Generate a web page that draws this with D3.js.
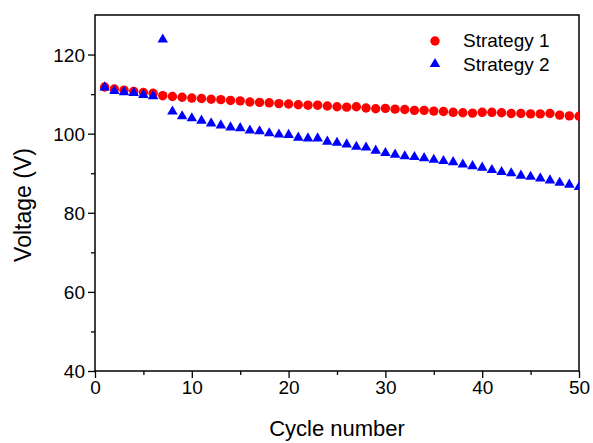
<!DOCTYPE html>
<html>
<head>
<meta charset="utf-8">
<script src="https://cdn.jsdelivr.net/npm/d3@7"></script>
<style>
	body { margin: 0; background: #fff; }
	text { font-family: Arial, "Liberation Sans", sans-serif; fill: #000; }
</style>
</head>
<body>
<div id="chart"></div>
<script>
var cycles = [1,2,3,4,5,6,7,8,9,10,11,12,13,14,15,16,17,18,19,20,21,22,23,24,25,
	26,27,28,29,30,31,32,33,34,35,36,37,38,39,40,41,42,43,44,45,46,47,48,49,50];

var strategy1 = [111.8,111.3,111.0,110.7,110.4,110.2,109.6,109.4,109.2,109.0,
	108.9,108.7,108.6,108.4,108.3,108.0,107.9,107.8,107.6,107.5,
	107.3,107.2,107.2,107.0,106.8,106.7,106.8,106.5,106.3,106.4,
	106.2,106.1,105.9,105.9,105.7,105.6,105.4,105.3,105.2,105.4,
	105.4,105.3,105.1,105.1,105.0,105.0,105.1,104.7,104.5,104.4];

var strategy2 = [111.9,111.0,110.7,110.5,110.0,109.7,124.0,105.8,104.6,104.1,
	103.5,102.8,102.3,101.8,101.6,101.0,100.8,100.3,100.0,99.9,
	99.2,99.0,99.0,98.2,97.9,97.5,96.9,96.7,95.9,95.3,
	94.9,94.5,94.3,94.0,93.6,93.3,93.0,92.4,92.0,91.6,
	91.0,90.5,90.2,89.6,89.3,88.9,88.4,87.8,87.3,86.7];

var xTicks = [0,10,20,30,40,50];
var yTicks = [40,60,80,100,120];
var seriesNames = ['Strategy 1', 'Strategy 2'];

var width = 593, height = 443;
var margin = {top: 15, right: 14, bottom: 72, left: 95};
var w = width - margin.left - margin.right;
var h = height - margin.top - margin.bottom;

var svg = d3.select('#chart').append('svg')
	.attr('width', width)
	.attr('height', height);

var g = svg.append('g').attr('transform', 'translate(' + margin.left + ',' + margin.top + ')');

var x = d3.scaleLinear().domain([0, 50]).range([0, w]);
var y = d3.scaleLinear().domain([40, 130]).range([h, 0]);

//clip so the last markers are cut by the frame
svg.append('defs').append('clipPath').attr('id', 'plot')
	.append('rect').attr('width', w).attr('height', h);

//minor ticks first
g.append('g')
	.attr('transform', 'translate(0,' + h + ')')
	.call(d3.axisBottom(x).tickValues([5,15,25,35,45]).tickSize(4).tickFormat(''))
	.call(function(a){ a.select('.domain').remove(); a.selectAll('line').attr('stroke-width', 1.3); });
g.append('g')
	.call(d3.axisLeft(y).tickValues([50,70,90,110]).tickSize(4).tickFormat(''))
	.call(function(a){ a.select('.domain').remove(); a.selectAll('line').attr('stroke-width', 1.3); });

//major axes
g.append('g')
	.attr('transform', 'translate(0,' + h + ')')
	.call(d3.axisBottom(x).tickValues(xTicks).tickSize(7).tickPadding(3))
	.call(function(a){
		a.select('.domain').remove();
		a.selectAll('line').attr('stroke-width', 1.3);
		a.selectAll('text').attr('font-size', 19).style('font-family', 'Arial, "Liberation Sans", sans-serif');
	});
g.append('g')
	.call(d3.axisLeft(y).tickValues(yTicks).tickSize(7).tickPadding(3))
	.call(function(a){
		a.select('.domain').remove();
		a.selectAll('line').attr('stroke-width', 1.3);
		a.selectAll('text').attr('font-size', 19).attr('dy', '0.35em').style('font-family', 'Arial, "Liberation Sans", sans-serif');
	});

//frame
g.append('rect')
	.attr('width', w).attr('height', h)
	.attr('fill', 'none').attr('stroke', '#000').attr('stroke-width', 1.5);

var marks = g.append('g').attr('clip-path', 'url(#plot)');

marks.selectAll('circle.s1')
	.data(strategy1)
	.enter()
	.append('circle')
	.attr('class', 's1')
	.attr('cx', function(d, i){ return x(cycles[i]); })
	.attr('cy', function(d){ return y(d); })
	.attr('r', 4.7)
	.attr('fill', '#ff0000');

var tri = d3.symbol().type(d3.symbolTriangle).size(48);
marks.selectAll('path.s2')
	.data(strategy2)
	.enter()
	.append('path')
	.attr('class', 's2')
	.attr('d', tri)
	.attr('transform', function(d, i){ return 'translate(' + x(cycles[i]) + ',' + (y(d) + 0.8) + ')'; })
	.attr('fill', '#0000ff');

//legend
var legend = g.append('g');
legend.append('circle')
	.attr('cx', 435 - margin.left).attr('cy', 41 - margin.top)
	.attr('r', 4.7).attr('fill', '#ff0000');
legend.append('path')
	.attr('d', tri)
	.attr('transform', 'translate(' + (435 - margin.left) + ',' + (64 - margin.top) + ')')
	.attr('fill', '#0000ff');
legend.selectAll('text')
	.data(seriesNames)
	.enter()
	.append('text')
	.attr('x', 463 - margin.left)
	.attr('y', function(d, i){ return 47 + i * 24 - margin.top; })
	.attr('font-size', 19)
	.text(function(d){ return d; });

//axis titles
svg.append('text')
	.attr('x', margin.left + w / 2)
	.attr('y', 436)
	.attr('text-anchor', 'middle')
	.attr('font-size', 22)
	.text('Cycle number');
svg.append('text')
	.attr('transform', 'translate(31,' + (margin.top + h / 2 + 12) + ') rotate(-90)')
	.attr('text-anchor', 'middle')
	.attr('font-size', 23)
	.text('Voltage (V)');
</script>
</body>
</html>
